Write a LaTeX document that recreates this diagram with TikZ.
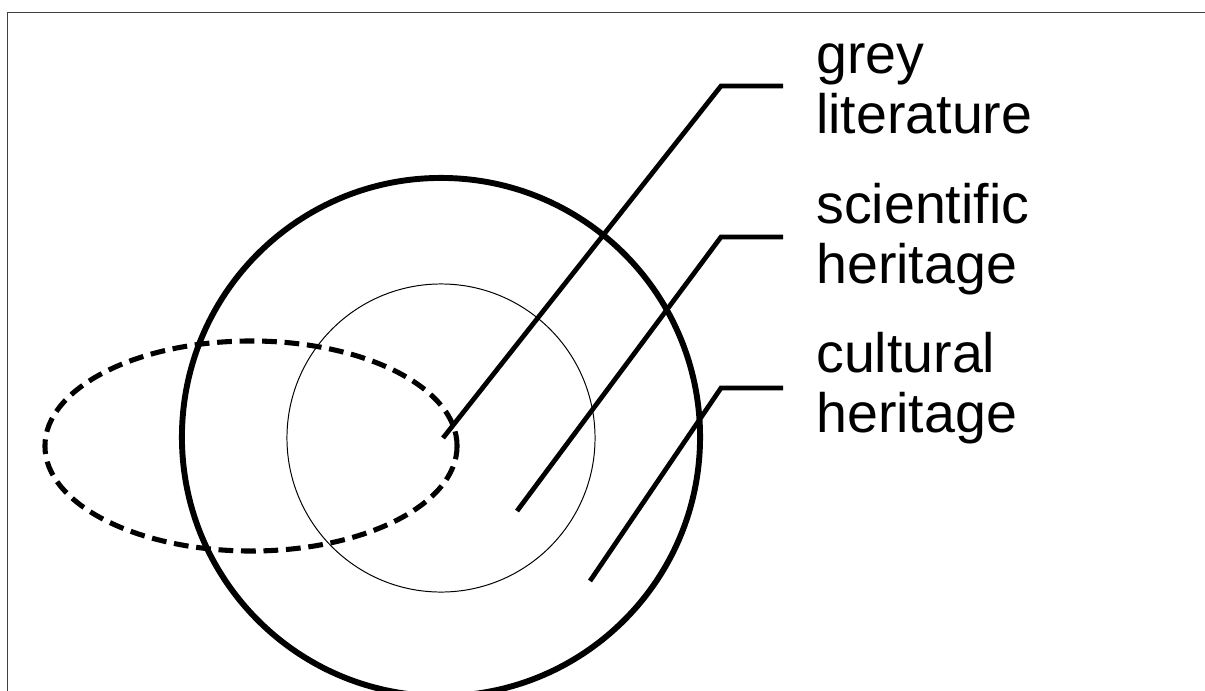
\documentclass[tikz,border=0pt]{standalone}
\usepackage{fontspec}
\setmainfont{Liberation Sans}
\usetikzlibrary{positioning, calc}

\begin{document}
\begin{tikzpicture}[
  x=0.025cm, y=-0.025cm,
  frameline/.style={draw=black!75, line width=0.7pt},
  bigring/.style={draw, line width=4.2pt},
  smallring/.style={draw, line width=0.7pt},
  oval/.style={draw, line width=3.6pt, dash pattern=on 10.5pt off 5.5pt},
  leader/.style={draw, line width=3.4pt},
  lbl/.style={anchor=west, inner sep=0pt, align=left, font=\fontsize{39.5pt}{42.5pt}\selectfont}
]
  \useasboundingbox (0,0) rectangle (1205,691);
  \draw[frameline] (7,700) -- (7,12) -- (1215,12);

  % sets
  \draw[bigring] (441,437) circle [radius=6.475cm];
  \draw[smallring] (441,438) circle [radius=3.85cm];
  \draw[oval] (251,446) ellipse [x radius=5.15cm, y radius=2.625cm];

  % labels
  \node[lbl] (grey) at (816,89) {grey\\literature};
  \node[lbl] (sci) at (816,239) {scientific\\heritage};
  \node[lbl] (cult) at (816,388) {cultural\\heritage};

  % leaders
  \coordinate (greytip) at (443,438);
  \coordinate (greybend) at (721,86);
  \coordinate (scitip) at (517,511);
  \coordinate (scibend) at (721,237);
  \coordinate (culttip) at (590,581);
  \coordinate (cultbend) at (721,388);
  \draw[leader] (greytip) -- (greybend) -- ($(greybend -| grey.west)+(-33,0)$);
  \draw[leader] (scitip) -- (scibend) -- ($(scibend -| sci.west)+(-33,0)$);
  \draw[leader] (culttip) -- (cultbend) -- ($(cultbend -| cult.west)+(-33,0)$);
\end{tikzpicture}
\end{document}
